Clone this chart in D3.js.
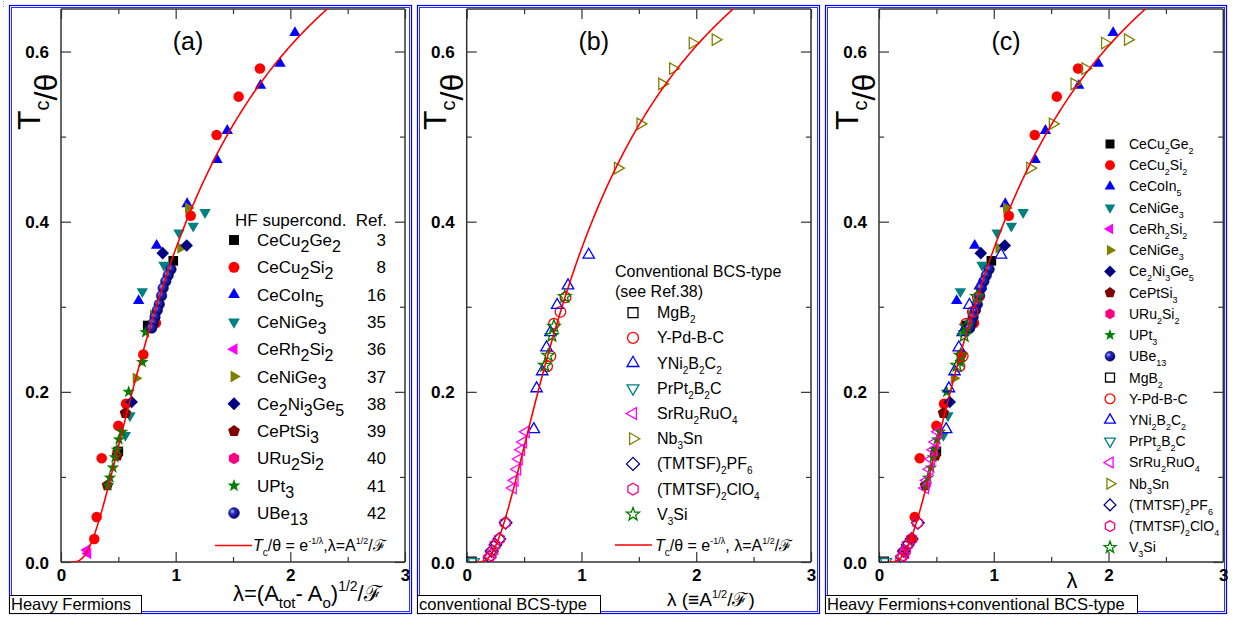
<!DOCTYPE html>
<html><head><meta charset="utf-8">
<script src="https://cdn.jsdelivr.net/npm/d3@7"></script>
<style>body{margin:0;background:#fff;} svg{display:block;font-family:Arial,"Liberation Sans",sans-serif;}</style>
</head><body><svg id="c" width="1242" height="617"></svg>
<script>
// ---------- data (λ, Tc/θ) ----------
const xTickValues=[0,1,2,3];
const yTickValues=[0,0.2,0.4,0.6];
const yTickLabels=["0.0","0.2","0.4","0.6"];

// Heavy fermions
const ceCu2Ge2=[[0.979,0.354],[0.756,0.278],[0.50,0.130]];
const ceCu2Si2=[[1.735,0.580],[1.549,0.547],[1.357,0.502],[1.131,0.407],[0.828,0.281],[0.718,0.244],[0.567,0.186],[0.50,0.160],[0.355,0.122],[0.311,0.053],[0.29,0.027]];
const ceCoIn5=[[2.04,0.622],[1.91,0.586],[1.74,0.560],[1.45,0.507],[1.36,0.473],[1.10,0.421],[0.834,0.372],[0.677,0.307]];
const ceNiGe3a=[[1.256,0.411],[1.153,0.395],[1.029,0.387],[0.898,0.349],[0.709,0.318],[0.601,0.172],[0.561,0.149]];
const ceRh2Si2=[[0.225,0.014],[0.235,0.010]];
const ceNiGe3b=[[1.11,0.416],[1.043,0.369],[0.805,0.29],[0.654,0.216]];
const ce2Ni3Ge5=[[1.096,0.372],[0.887,0.363],[0.616,0.188]];
const cePtSi3=[[0.561,0.175],[0.491,0.125],[0.404,0.090]];
const uRu2Si2=[[0.49,0.128]];
const uPt3=[[0.709,0.235],[0.738,0.270],[0.590,0.200],[0.532,0.153],[0.506,0.144],[0.488,0.132],[0.471,0.123],[0.453,0.111],[0.427,0.099],[0.410,0.090]];
const uBe13=[[0.959,0.344],[0.935,0.337],[0.914,0.330],[0.891,0.322],[0.877,0.313],[0.857,0.303],[0.840,0.296],[0.820,0.288],[0.805,0.281],[0.791,0.275]];
const hfRefs=["3","8","16","35","36","37","38","39","40","41","42"];

// Conventional BCS
const mgB2=[[0.04,0.0]];
const yPdBC=[[0.861,0.311],[0.817,0.294],[0.760,0.280],[0.730,0.242],[0.701,0.230]];
const yNi2B2C2=[[1.063,0.361],[0.883,0.325],[0.788,0.302],[0.730,0.270],[0.695,0.252],[0.658,0.224],[0.609,0.204],[0.585,0.156]];
const prPt2B2C=[[0.06,0.0]];
const srRu2RuO4=[[0.516,0.153],[0.492,0.141],[0.475,0.132],[0.455,0.121],[0.441,0.109],[0.418,0.096],[0.403,0.087]];
const nb3Sn=[[2.168,0.614],[1.968,0.610],[1.797,0.580],[1.702,0.562],[1.513,0.515],[1.316,0.463]];
const tmtsfPF6=[[0.339,0.046],[0.284,0.027],[0.250,0.020],[0.217,0.013],[0.200,0.006]];
const tmtsfClO4=[[0.335,0.046],[0.284,0.027],[0.246,0.020],[0.229,0.013],[0.210,0.008],[0.190,0.004]];
const v3Si=[[0.855,0.312],[0.760,0.277],[0.742,0.266],[0.710,0.243],[0.681,0.231]];

// ---------- series definitions ----------
const hfSeries=[
 {name:"CeCu_{2}Ge_{2}",data:ceCu2Ge2,shape:"square",color:"#000000"},
 {name:"CeCu_{2}Si_{2}",data:ceCu2Si2,shape:"circle",color:"#ff0000"},
 {name:"CeCoIn_{5}",data:ceCoIn5,shape:"triUp",color:"#0000ff"},
 {name:"CeNiGe_{3}",data:ceNiGe3a,shape:"triDown",color:"#008080"},
 {name:"CeRh_{2}Si_{2}",data:ceRh2Si2,shape:"triLeft",color:"#ff00ff"},
 {name:"CeNiGe_{3}",data:ceNiGe3b,shape:"triRight",color:"#808000"},
 {name:"Ce_{2}Ni_{3}Ge_{5}",data:ce2Ni3Ge5,shape:"diamond",color:"#000080"},
 {name:"CePtSi_{3}",data:cePtSi3,shape:"pentagon",color:"#800000"},
 {name:"URu_{2}Si_{2}",data:uRu2Si2,shape:"hexagon",color:"#ff0080"},
 {name:"UPt_{3}",data:uPt3,shape:"star",color:"#008000"},
 {name:"UBe_{13}",data:uBe13,shape:"sphere",color:"#000080"}
];
const bcsSeries=[
 {name:"MgB_{2}",data:mgB2,shape:"square",color:"#000000"},
 {name:"Y-Pd-B-C",data:yPdBC,shape:"circle",color:"#ff0000"},
 {name:"YNi_{2}B_{2}C_{2}",data:yNi2B2C2,shape:"triUp",color:"#0000ff"},
 {name:"PrPt_{2}B_{2}C",data:prPt2B2C,shape:"triDown",color:"#008080"},
 {name:"SrRu_{2}RuO_{4}",data:srRu2RuO4,shape:"triLeft",color:"#ff00ff"},
 {name:"Nb_{3}Sn",data:nb3Sn,shape:"triRight",color:"#808000"},
 {name:"(TMTSF)_{2}PF_{6}",data:tmtsfPF6,shape:"diamond",color:"#000080"},
 {name:"(TMTSF)_{2}ClO_{4}",data:tmtsfClO4,shape:"hexagon",color:"#ff0080"},
 {name:"V_{3}Si",data:v3Si,shape:"star",color:"#008000"}
];

// ---------- helpers ----------
const svg=d3.select("#c");
const defs=svg.append("defs");
const grad=defs.append("radialGradient").attr("id","sph").attr("cx","0.35").attr("cy","0.35").attr("r","0.7");
grad.append("stop").attr("offset","0").attr("stop-color","#9fb4ff");
grad.append("stop").attr("offset","0.35").attr("stop-color","#2a2ac0");
grad.append("stop").attr("offset","1").attr("stop-color","#000060");

// small dotted mark at the top-left corner
svg.append("line").attr("x1",3.5).attr("x2",3.5).attr("y1",1).attr("y2",8).attr("stroke","#999").attr("stroke-width",1).attr("stroke-dasharray","1,1.5");

function poly(n,R,rot){const p=[];for(let i=0;i<n;i++){const a=rot+i*2*Math.PI/n;p.push([R*Math.cos(a),R*Math.sin(a)]);}return "M"+p.map(q=>q[0].toFixed(2)+","+q[1].toFixed(2)).join("L")+"Z";}
function shapePath(shape,s){
  const R=s;
  switch(shape){
    case "square": return `M${-R*0.8},${-R*0.8}H${R*0.8}V${R*0.8}H${-R*0.8}Z`;
    case "circle": case "sphere": {const r=R*0.88;return `M${r},0A${r},${r} 0 1,1 ${-r},0A${r},${r} 0 1,1 ${r},0Z`;}
    case "triUp": return poly(3,R*1.1,-Math.PI/2);
    case "triDown": return poly(3,R*1.1,Math.PI/2);
    case "triLeft": return poly(3,R*1.1,Math.PI);
    case "triRight": return poly(3,R*1.1,0);
    case "diamond": return poly(4,R*1.05,-Math.PI/2);
    case "pentagon": return poly(5,R,-Math.PI/2);
    case "hexagon": return poly(6,R*0.95,-Math.PI/2);
    case "star": {const p=[];for(let i=0;i<10;i++){const a=-Math.PI/2+i*Math.PI/5;const rr=i%2?R*0.45:R*1.1;p.push([rr*Math.cos(a),rr*Math.sin(a)]);}return "M"+p.map(q=>q[0].toFixed(2)+","+q[1].toFixed(2)).join("L")+"Z";}
  }
}
function drawMarker(g,shape,color,open,x,y,s){
  const p=g.append("path").attr("d",shapePath(shape,s)).attr("transform",`translate(${x},${y})`);
  if(open){p.attr("fill","none").attr("stroke",color).attr("stroke-width",1.3);}
  else if(shape==="sphere"){p.attr("fill","url(#sph)").attr("stroke","#000060").attr("stroke-width",0.5);}
  else {p.attr("fill",color);}
  return p;
}
// rich text: _{sub} ^{sup} *{italic}
function rich(t,str,o){
  const re=/([_^*])\{([^}]*)\}|([^_^*]+)/g;let m;let cur=0;
  while((m=re.exec(str))){
    let txt,size=o.size,target=0,ital=false;
    if(m[3]!==undefined){txt=m[3];}
    else if(m[1]==="_"){txt=m[2];size=o.subSize;target=o.subDy;}
    else if(m[1]==="^"){txt=m[2];size=o.supSize||o.subSize;target=-o.supDy;}
    else {txt=m[2];ital=true;}
    const ts=t.append("tspan").text(txt).attr("font-size",size);
    if(target!==cur){ts.attr("dy",target-cur);cur=target;}
    if(ital)ts.attr("font-style","italic");
  }
  return t;
}

// ---------- panels ----------
const panels=[
 {id:"a",frame:[9,5,412,614],plot:[61,9,405,562],label:"(a)",box:[9,595,141,613],boxText:"Heavy Fermions"},
 {id:"b",frame:[417,5,820,614],plot:[466.7,9,811,562],label:"(b)",box:[417,595,600,613],boxText:"conventional BCS-type"},
 {id:"c",frame:[825,5,1227,614],plot:[879,9,1223.3,562],label:"(c)",box:[825,595,1137,613],boxText:"Heavy Fermions+conventional BCS-type"}
];

panels.forEach(P=>{
  const g=svg.append("g");
  const [x0,y0,x1,y1]=P.plot;
  const x=d3.scaleLinear().domain([0,3]).range([x0,x1]);
  const y=d3.scaleLinear().domain([0,0.65]).range([y1,y0]);
  P.x=x;P.y=y;
  // frame (double blue)
  const [fx0,fy0,fx1,fy1]=P.frame;
  g.append("rect").attr("x",fx0+0.5).attr("y",fy0+0.5).attr("width",fx1-fx0-1).attr("height",fy1-fy0-1).attr("fill","none").attr("stroke","#0000ff").attr("stroke-width",1.2);
  g.append("rect").attr("x",fx0+2.5).attr("y",fy0+2.5).attr("width",fx1-fx0-5).attr("height",fy1-fy0-5).attr("fill","none").attr("stroke","#3030ff").attr("stroke-width",1);

  // axes with inward ticks
  const axC="#333";
  const xMinor=d3.range(0.5,3,1);
  const yMinor=[0.1,0.3,0.5];
  const bottom=g.append("g").attr("transform",`translate(0,${y1})`).call(d3.axisBottom(x).tickValues(xTickValues).tickSize(-10).tickFormat(d3.format("d")));
  const top=g.append("g").attr("transform",`translate(0,${y0})`).call(d3.axisTop(x).tickValues(xTickValues).tickSize(-10).tickFormat(""));
  const left=g.append("g").attr("transform",`translate(${x0},0)`).call(d3.axisLeft(y).tickValues(yTickValues).tickSize(-10).tickFormat((d,i)=>yTickLabels[i]));
  const right=g.append("g").attr("transform",`translate(${x1},0)`).call(d3.axisRight(y).tickValues(yTickValues).tickSize(-10).tickFormat(""));
  g.append("g").attr("transform",`translate(0,${y1})`).call(d3.axisBottom(x).tickValues(xMinor).tickSize(-5).tickFormat("")).select(".domain").remove();
  g.append("g").attr("transform",`translate(0,${y0})`).call(d3.axisTop(x).tickValues(xMinor).tickSize(-5).tickFormat("")).select(".domain").remove();
  g.append("g").attr("transform",`translate(${x0},0)`).call(d3.axisLeft(y).tickValues(yMinor).tickSize(-5).tickFormat("")).select(".domain").remove();
  g.append("g").attr("transform",`translate(${x1},0)`).call(d3.axisRight(y).tickValues(yMinor).tickSize(-5).tickFormat("")).select(".domain").remove();
  g.selectAll(".domain").attr("stroke",axC).attr("stroke-width",1.5);
  g.selectAll(".tick line").attr("stroke",axC).attr("stroke-width",1.2);
  bottom.selectAll(".tick text").attr("font-size",17).attr("font-weight","bold").attr("fill","#000").attr("font-family","Arial, 'Liberation Sans', sans-serif").attr("y",7).attr("dy","0.71em");
  left.selectAll(".tick text").attr("font-size",17).attr("font-weight","bold").attr("fill","#000").attr("font-family","Arial, 'Liberation Sans', sans-serif").attr("x",-12).attr("dy","0.36em");
  bottom.selectAll(".domain").attr("d",`M${x0},0H${x1}`);
  top.selectAll(".domain").attr("d",`M${x0},0H${x1}`);
  left.selectAll(".domain").attr("d",`M0,${y1}V${y0}`);
  right.selectAll(".domain").attr("d",`M0,${y1}V${y0}`);

  // y title
  const yt=g.append("text").attr("transform",`translate(${x0-21},${y0+121}) rotate(-90)`).attr("fill","#000");
  yt.append("tspan").text("T").attr("font-size",32);
  yt.append("tspan").text("c").attr("font-size",20).attr("dy",9);
  yt.append("tspan").text("/θ").attr("font-size",32).attr("dy",8);

  // panel label
  g.append("text").attr("x",x0+127).attr("y",y0+41).attr("text-anchor","middle").attr("font-size",25).text(P.label);

  // bottom-left box
  const [bx0,by0,bx1,by1]=P.box;
  g.append("rect").attr("x",bx0+0.5).attr("y",by0+0.5).attr("width",bx1-bx0).attr("height",by1-by0).attr("fill","#fff").attr("stroke","#000").attr("stroke-width",1);
  g.append("text").attr("x",bx0+2).attr("y",by1-3.5).attr("font-size",16.5).text(P.boxText);

  P.g=g;
});

// ---------- data marks ----------
const clip=(P)=>{const id="clip"+P.id;defs.append("clipPath").attr("id",id).append("rect").attr("x",P.plot[0]).attr("y",P.plot[1]).attr("width",P.plot[2]-P.plot[0]).attr("height",P.plot[3]-P.plot[1]);return `url(#${id})`;};
const clip2={};panels.forEach(P=>clip2[P.id]=clip(P));
function drawSeries(P,series,open,order){
  const gg=P.g.append("g").attr("clip-path",clip2[P.id]);
  (order||series).forEach(s=>{s.data.forEach(d=>drawMarker(gg,s.shape,s.color,open,P.x(d[0]),P.y(d[1]),6));});
}

// Theory curve Tc/θ = exp(-1/λ)
const lamGrid=d3.range(0.08,2.6,0.01);
function drawCurve(P){
  const line=d3.line().x(l=>P.x(l)).y(l=>P.y(Math.exp(-1/l)));
  P.g.append("path").attr("clip-path",clip2[P.id]).attr("d",line(lamGrid)).attr("fill","none").attr("stroke","#ff0000").attr("stroke-width",1.6);
}
const pa=panels[0],pb=panels[1],pc=panels[2];
const hfOrder=[hfSeries[8],...hfSeries.filter((s,i)=>i!==8)];
drawSeries(pa,hfSeries,false,hfOrder);
drawCurve(pa);
drawSeries(pb,bcsSeries,true);
drawCurve(pb);
drawSeries(pc,hfSeries,false,hfOrder);
drawSeries(pc,bcsSeries,true);
drawCurve(pc);

// ---------- legends ----------
// (a)
{
  const g=pa.g;
  g.append("text").attr("x",235).attr("y",226).attr("font-size",17).text("HF supercond.");
  g.append("text").attr("x",387).attr("y",226).attr("font-size",17).attr("text-anchor","end").text("Ref.");
  hfSeries.forEach((s,i)=>{
    const yy=240+i*27.3;
    drawMarker(g,s.shape,s.color,false,234,yy,6.2);
    rich(g.append("text").attr("x",257).attr("y",yy+6),s.name,{size:17,subSize:16,subDy:6});
    g.append("text").attr("x",386).attr("y",yy+6).attr("font-size",17).attr("text-anchor","end").text(hfRefs[i]);
  });
  g.append("line").attr("x1",215).attr("x2",252).attr("y1",545.5).attr("y2",545.5).attr("stroke","#ff0000").attr("stroke-width",1.6);
  rich(g.append("text").attr("x",253).attr("y",551),"*{T}_{c}/θ = e^{-1/λ},λ=A^{1/2}/ℱ",{size:16,subSize:10,subDy:5,supSize:9,supDy:7});
  rich(g.append("text").attr("x",233).attr("y",601),"λ=(A_{tot}- A_{o})^{1/2}/ℱ",{size:22,subSize:15,subDy:7,supSize:14,supDy:10});
}
// (b)
{
  const g=pb.g;
  g.append("text").attr("x",615).attr("y",277).attr("font-size",16).text("Conventional BCS-type");
  g.append("text").attr("x",615).attr("y",297).attr("font-size",16).text("(see Ref.38)");
  bcsSeries.forEach((s,i)=>{
    const yy=312.7+i*25.2;
    drawMarker(g,s.shape,s.color,true,633,yy,6.2);
    rich(g.append("text").attr("x",657).attr("y",yy+5.5),s.name,{size:16,subSize:10,subDy:5});
  });
  g.append("line").attr("x1",615).attr("x2",652).attr("y1",545).attr("y2",545).attr("stroke","#ff0000").attr("stroke-width",1.6);
  rich(g.append("text").attr("x",655).attr("y",551),"*{T}_{c}/θ = e^{-1/λ}, λ=A^{1/2}/ℱ",{size:16,subSize:10,subDy:5,supSize:9,supDy:7});
  rich(g.append("text").attr("x",667).attr("y",606),"λ (≡A^{1/2}/ℱ)",{size:19,subSize:11,subDy:5,supSize:11,supDy:8});
}
// (c)
{
  const g=pc.g;
  const all=[...hfSeries.map(s=>({...s,open:false})),...bcsSeries.map(s=>({...s,open:true}))];
  all.forEach((s,i)=>{
    const yy=144+i*21.23;
    drawMarker(g,s.shape,s.color,s.open,1110,yy,5.6);
    rich(g.append("text").attr("x",1129).attr("y",yy+5),s.name,{size:14,subSize:9,subDy:5});
  });
  g.append("text").attr("x",1072).attr("y",588).attr("text-anchor","middle").attr("font-size",22).text("λ");
}
</script></body></html>
